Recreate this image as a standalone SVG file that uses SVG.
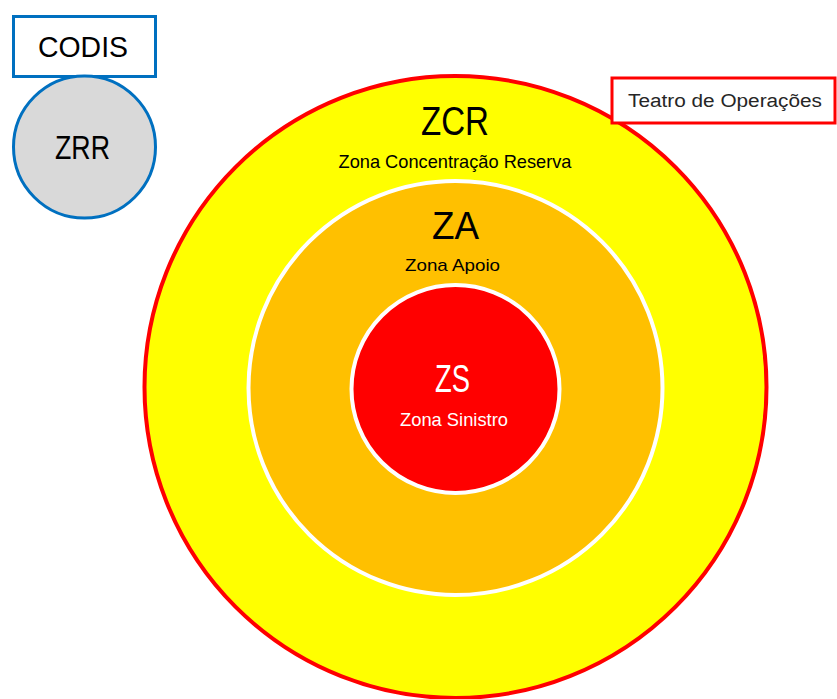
<svg xmlns="http://www.w3.org/2000/svg" width="837" height="699" viewBox="0 0 837 699">
<style>
text{font-family:"Liberation Sans","DejaVu Sans",sans-serif;text-anchor:middle}
.blk{fill:#000}
.wht{fill:#fff}
.zone{stroke:#fff;stroke-width:4}
.blue{stroke:#0070C0;stroke-width:3}
</style>
<rect width="837" height="699" fill="#fff"/>
<g id="zcr">
<circle cx="455.5" cy="387" r="311" fill="#FFFF00" stroke="#FF0000" stroke-width="4"/>
<text class="blk" x="455" y="135" font-size="41" textLength="68" lengthAdjust="spacingAndGlyphs">ZCR</text>
<text class="blk" x="455" y="168" font-size="19" textLength="233" lengthAdjust="spacingAndGlyphs">Zona Concentração Reserva</text>
</g>
<g id="za">
<circle class="zone" cx="455.5" cy="388" r="207" fill="#FFC000"/>
<text class="blk" x="455.5" y="239" font-size="39" textLength="47" lengthAdjust="spacingAndGlyphs">ZA</text>
<text class="blk" x="452.5" y="271" font-size="17" textLength="95" lengthAdjust="spacingAndGlyphs">Zona Apoio</text>
</g>
<g id="zs">
<circle class="zone" cx="455.5" cy="389" r="104" fill="#FF0000"/>
<text class="wht" x="452.5" y="392" font-size="38" textLength="35" lengthAdjust="spacingAndGlyphs">ZS</text>
<text class="wht" x="454" y="426" font-size="19" textLength="108" lengthAdjust="spacingAndGlyphs">Zona Sinistro</text>
</g>
<g id="teatro">
<rect x="612" y="78" width="223" height="45" fill="#fff" stroke="#FF0000" stroke-width="3"/>
<text x="725" y="107" font-size="18" fill="#262626" textLength="194" lengthAdjust="spacingAndGlyphs">Teatro de Operações</text>
</g>
<g id="codis">
<rect class="blue" x="13.5" y="16.5" width="142" height="60" fill="#fff"/>
<text class="blk" x="83" y="57" font-size="30" textLength="90" lengthAdjust="spacingAndGlyphs">CODIS</text>
</g>
<g id="zrr">
<circle class="blue" cx="84.5" cy="147" r="71" fill="#D9D9D9"/>
<text class="blk" x="82.5" y="159" font-size="33" textLength="55" lengthAdjust="spacingAndGlyphs">ZRR</text>
</g>
<g id="connectors"/>
</svg>
